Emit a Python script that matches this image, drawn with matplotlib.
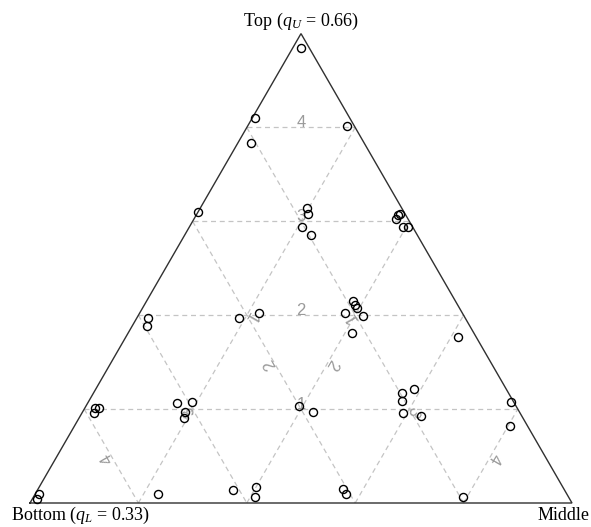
import numpy as np
import matplotlib
matplotlib.use("Agg")
import matplotlib.pyplot as plt

plt.rcParams['font.family'] = ['Liberation Serif', 'DejaVu Serif']
plt.rcParams['mathtext.fontset'] = 'custom'
plt.rcParams['mathtext.rm'] = 'Liberation Serif'
plt.rcParams['mathtext.it'] = 'Liberation Serif:italic'

# vertex names
corner_labels = [r'Bottom ($q_L$ = 0.33)', 'Middle', r'Top ($q_U$ = 0.66)']

# composition of each observation (bottom, middle, top shares)
bottom = [0.015, 0.174, 0.013, 0.208, 0.381, 0.175, 0.179, 0.205, 0.196, 0.014,
          0.023, 0.010, 0.017, 0.008, 0.417, 0.376, 0.189, 0.190, 0.189, 0.217,
          0.187, 0.225, 0.034, 0.585, 0.595, 0.779, 0.772, 0.787, 0.622, 0.593,
          0.617, 0.625, 0.401, 0.381, 0.197, 0.170, 0.206, 0.217, 0.187, 0.005,
          0.032, 0.194, 0.973, 0.982, 0.755, 0.611, 0.566, 0.578, 0.408, 0.408]
middle = [0.015, 0.005, 0.183, 0.024, 0.000, 0.197, 0.206, 0.208, 0.232, 0.373,
          0.373, 0.375, 0.394, 0.403, 0.189, 0.220, 0.381, 0.389, 0.396, 0.379,
          0.415, 0.413, 0.613, 0.021, 0.028, 0.019, 0.026, 0.022, 0.165, 0.192,
          0.189, 0.194, 0.393, 0.425, 0.569, 0.587, 0.577, 0.592, 0.628, 0.780,
          0.804, 0.793, 0.008, 0.009, 0.226, 0.361, 0.400, 0.409, 0.562, 0.573]
top = [0.970, 0.821, 0.804, 0.768, 0.619, 0.628, 0.615, 0.587, 0.572, 0.613,
       0.604, 0.615, 0.589, 0.589, 0.394, 0.404, 0.430, 0.421, 0.415, 0.404,
       0.398, 0.362, 0.353, 0.394, 0.377, 0.202, 0.202, 0.191, 0.213, 0.215,
       0.194, 0.181, 0.206, 0.194, 0.234, 0.243, 0.217, 0.191, 0.185, 0.215,
       0.164, 0.013, 0.019, 0.009, 0.019, 0.028, 0.034, 0.013, 0.030, 0.019]

grid_levels = [0.2, 0.4, 0.6, 0.8]
grid_labels = ['1', '2', '3', '4']

H = np.sqrt(3) / 2


def to_xy(b, m, t):
    b, m, t = np.asarray(b), np.asarray(m), np.asarray(t)
    s = b + m + t
    return (m + t / 2) / s, (t * H) / s


fig = plt.figure(figsize=(5.91, 5.27), dpi=100)
ax = fig.add_axes([0, 0, 1, 1])
ax.set_xlim(-30 / 542, 561 / 542)
ax.set_ylim(-24 / 542, 503 / 542)
ax.axis('off')

grid_kw = dict(color='#c4c4c4', lw=0.9, dashes=(4, 3), zorder=1)
lab_kw = dict(color='#9a9a9a', fontsize=12, family='Liberation Sans',
              ha='center', va='baseline', rotation_mode='anchor', zorder=2)

for v, lab in zip(grid_levels, grid_labels):
    # constant top share
    x, y = to_xy([1 - v, 0], [0, 1 - v], [v, v])
    ax.plot(x, y, **grid_kw)
    ax.text(x.mean(), y.mean(), lab, rotation=0, **lab_kw)
    # constant bottom share
    x, y = to_xy([v, v], [0, 1 - v], [1 - v, 0])
    ax.plot(x, y, **grid_kw)
    ax.text(x.mean(), y.mean(), lab, rotation=120, **lab_kw)
    # constant middle share
    x, y = to_xy([1 - v, 0], [v, v], [0, 1 - v])
    ax.plot(x, y, **grid_kw)
    ax.text(x.mean(), y.mean(), lab, rotation=-120, **lab_kw)

# outline
ax.plot([0, 1, 0.5, 0], [0, 0, H, 0], color='#303030', lw=1.0, zorder=3,
        solid_joinstyle='miter')

px, py = to_xy(bottom, middle, top)
ax.plot(px, py, 'o', ms=5.8, mfc='none', mec='black', mew=1.0, zorder=4)

ax.text(0.5, H + 12 / 542, corner_labels[2], fontsize=13, ha='center', va='center')
ax.text(-19 / 542, -12.5 / 542, corner_labels[0], fontsize=13, ha='left', va='center')
ax.text(560 / 542, -12.5 / 542, corner_labels[1], fontsize=13, ha='right', va='center')

fig.savefig('out.png', dpi=100)
